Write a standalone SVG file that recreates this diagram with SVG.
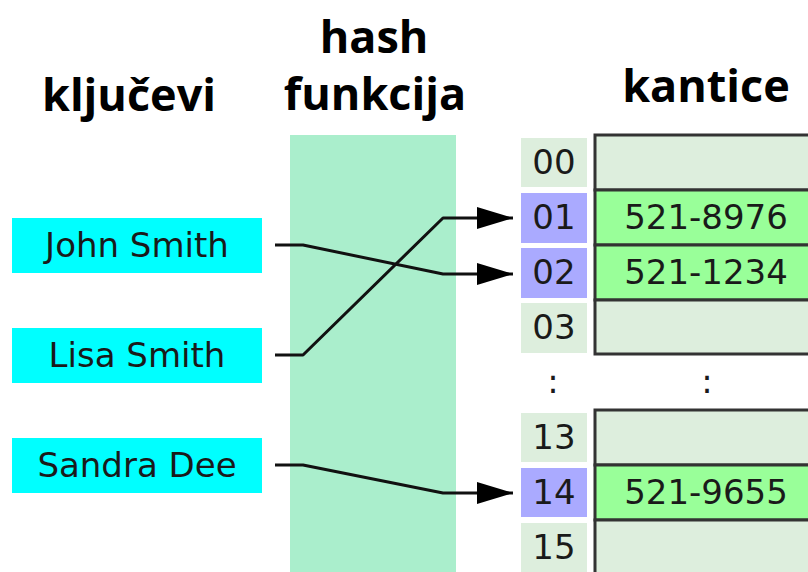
<svg xmlns="http://www.w3.org/2000/svg" width="808" height="572" viewBox="0 0 808 572">
<defs>
<style>
.h{font-family:"Open Sans","Noto Sans",sans-serif;font-weight:bold;font-size:45px;fill:#000;text-anchor:middle}
.t{font-family:"DejaVu Sans",Verdana,sans-serif;font-size:34px;fill:#1a1a1a;text-anchor:middle}
.key{fill:#00ffff}
.idx{fill:#ddeedd}
.sel{fill:#aaaaff}
.cell{fill:#ddeedd;stroke:#333;stroke-width:3}
.full{fill:#99ff99;stroke:#333;stroke-width:3}
.c{fill:none;stroke:#111;stroke-width:3;stroke-linejoin:round}
</style>
<marker id="ah" markerUnits="userSpaceOnUse" markerWidth="38" markerHeight="24" refX="36" refY="12" orient="auto">
<path d="M0,1 L36,12 L0,23 Z" fill="#000"/>
</marker>
</defs>
<rect width="808" height="572" fill="#fff"/>

<g id="headings">
<text class="h" x="129" y="111">ključevi</text>
<text class="h" x="374" y="53">hash</text>
<text class="h" x="375" y="110">funkcija</text>
<text class="h" x="706" y="102">kantice</text>
</g>

<g id="hash-function"><rect x="290" y="135" width="166" height="437" fill="#aaeecc"/></g>

<g id="key-john"><rect class="key" x="12" y="218" width="250" height="55"/><text class="t" x="137" y="257">John Smith</text></g>
<g id="key-lisa"><rect class="key" x="12" y="328" width="250" height="55"/><text class="t" x="137" y="367">Lisa Smith</text></g>
<g id="key-sandra"><rect class="key" x="12" y="438" width="250" height="55"/><text class="t" x="137" y="477">Sandra Dee</text></g>

<g id="bucket-00"><rect class="idx" x="521" y="138" width="66" height="49"/><text class="t" x="554" y="174">00</text><rect class="cell" x="595" y="135" width="220" height="55"/></g>
<g id="bucket-01"><rect class="sel" x="521" y="193" width="66" height="50"/><text class="t" x="554" y="229">01</text><rect class="full" x="595" y="190" width="220" height="55"/><text class="t" x="706" y="229">521-8976</text></g>
<g id="bucket-02"><rect class="sel" x="521" y="248" width="66" height="50"/><text class="t" x="554" y="284">02</text><rect class="full" x="595" y="245" width="220" height="55"/><text class="t" x="706" y="284">521-1234</text></g>
<g id="bucket-03"><rect class="idx" x="521" y="303" width="66" height="50"/><text class="t" x="554" y="339">03</text><rect class="cell" x="595" y="300" width="220" height="54"/></g>
<g id="ellipsis"><text class="t" x="553" y="393">:</text><text class="t" x="707" y="393">:</text></g>
<g id="bucket-13"><rect class="idx" x="521" y="413" width="66" height="49"/><text class="t" x="554" y="449">13</text><rect class="cell" x="595" y="410" width="220" height="55"/></g>
<g id="bucket-14"><rect class="sel" x="521" y="468" width="66" height="49"/><text class="t" x="554" y="504">14</text><rect class="full" x="595" y="465" width="220" height="55"/><text class="t" x="706" y="504">521-9655</text></g>
<g id="bucket-15"><rect class="idx" x="521" y="523" width="66" height="49"/><text class="t" x="554" y="559">15</text><rect class="cell" x="595" y="520" width="220" height="60"/></g>

<g id="connectors">
<path class="c" d="M275,245 L303,245 L443,274 L513,274" marker-end="url(#ah)"/>
<path class="c" d="M275,355 L303,355 L443,218 L513,218" marker-end="url(#ah)"/>
<path class="c" d="M275,465 L303,465 L443,493 L513,493" marker-end="url(#ah)"/>
</g>
</svg>
